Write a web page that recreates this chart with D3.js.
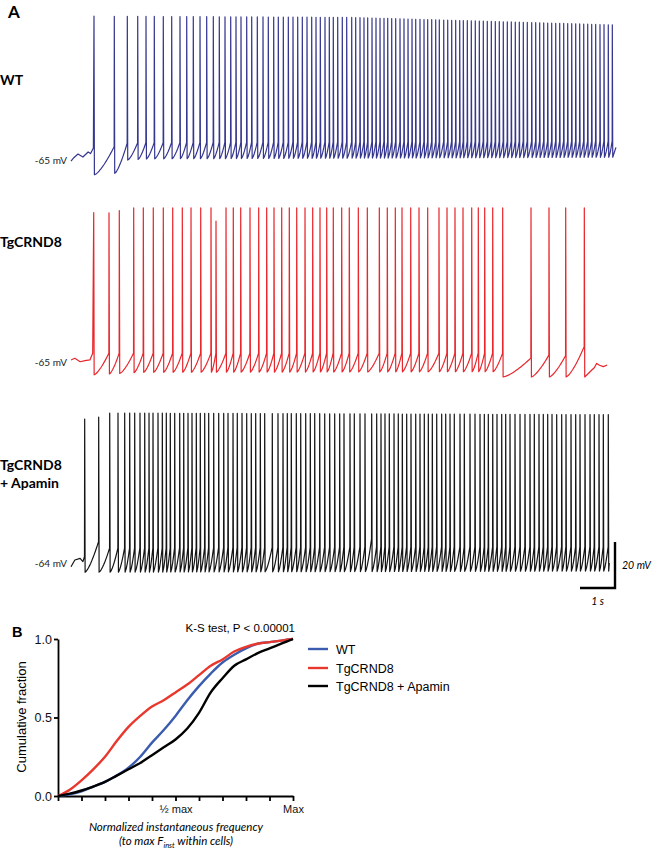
<!DOCTYPE html>
<html><head><meta charset="utf-8">
<script src="https://cdn.jsdelivr.net/npm/d3@7"></script>
<style>body{margin:0;background:#fff}</style>
</head><body><svg id="c" width="656" height="852"></svg>
<script>
// ---------- Panel A data (spike times in s, membrane potential in mV) ----------
const wtSpikeTimes = [0.657,1.237,1.609,1.906,2.143,2.380,2.637,2.877,3.114,3.306,3.494,3.686,3.877,4.066,4.237,4.400,4.563,4.714,4.857,5.020,5.163,5.323,5.486,5.637,5.791,5.923,6.066,6.209,6.343,6.477,6.609,6.743,6.877,7.000,7.123,7.257,7.380,7.494,7.620,7.751,7.877,8.020,8.134,8.257,8.371,8.477,8.600,8.714,8.829,8.943,9.049,9.163,9.277,9.400,9.514,9.629,9.743,9.849,9.971,10.086,10.191,10.306,10.420,10.523,10.649,10.763,10.877,10.991,11.106,11.209,11.323,11.437,11.551,11.666,11.780,11.894,12.009,12.123,12.237,12.351,12.466,12.580,12.694,12.809,12.923,13.037,13.163,13.277,13.391,13.506,13.620,13.734,13.849,13.963,14.077,14.191,14.306,14.420,14.534,14.649,14.763,14.877,14.991,15.114,15.229,15.351,15.466];
const wtHead = [[0,-65.5],[0.08,-64],[0.2,-62.4],[0.34,-63.7],[0.49,-61.5],[0.56,-62.2],[0.64,-59.8]];
const wtTail = [[15.57,-59.5]];
const wtPeak = [[0,-2.4],[8,-3],[15.6,-6.3]];
const wtTrough = [[0.6,-71.5],[1.24,-70.8],[1.61,-65],[2.2,-64.5],[15.6,-63.8]];
const wtThreshold = [[1.237,-59.2],[1.61,-57.7],[2.14,-57.5],[15.6,-56.8]];
const wtPeakOverrides = [];

const tgSpikeTimes = [0.649,1.086,1.380,1.791,2.066,2.351,2.637,2.906,3.180,3.429,3.706,4.000,4.143,4.429,4.637,4.849,5.114,5.363,5.591,5.800,6.020,6.237,6.449,6.686,6.906,7.114,7.306,7.494,7.734,7.951,8.209,8.466,8.809,9.037,9.266,9.457,9.706,9.943,10.191,10.514,10.743,10.971,11.200,11.449,11.637,11.820,12.049,12.334,13.143,13.657,14.134,14.666];
const tgHead = [[0,-64.1],[0.11,-63.4],[0.26,-64.9],[0.4,-64.4],[0.54,-64.1],[0.62,-61.2]];
const tgTail = [[14.88,-68.5],[14.95,-67.5],[15.02,-65.6],[15.1,-66.4],[15.21,-67],[15.32,-66.3]];
const tgPeak = [[0,0.2],[1.1,-0.2],[1.7,2],[15.3,2]];
const tgTrough = [[0.6,-70.6],[2,-69.5],[12.2,-69.2],[12.33,-71.5],[15.3,-71.5]];
const tgThreshold = [[0.6,-61.2],[12.4,-61.2],[13.14,-63.3],[13.66,-62],[14.13,-62.3],[14.67,-58.3]];
const tgPeakOverrides = [[4.143,-3.7]];

const apSpikeTimes = [0.391,0.791,1.106,1.343,1.534,1.677,1.820,1.971,2.106,2.229,2.343,2.486,2.609,2.723,2.837,2.963,3.106,3.220,3.343,3.457,3.580,3.694,3.820,3.934,4.077,4.220,4.363,4.486,4.629,4.751,4.886,5.020,5.151,5.277,5.409,5.534,5.751,5.914,6.057,6.180,6.294,6.437,6.563,6.706,6.837,6.963,7.106,7.249,7.391,7.534,7.677,7.800,7.971,8.094,8.257,8.400,8.591,8.734,8.857,8.971,9.094,9.229,9.351,9.466,9.591,9.714,9.849,9.971,10.094,10.209,10.323,10.449,10.591,10.706,10.829,10.951,11.114,11.237,11.400,11.543,11.686,11.809,11.923,12.049,12.171,12.306,12.420,12.543,12.686,12.829,12.971,13.114,13.237,13.371,13.494,13.620,13.743,13.877,14.020,14.143,14.286,14.420,14.543,14.686,14.829,14.951,15.086,15.209,15.351];
const apHead = [[0,-65.6],[0.11,-62.7],[0.26,-62],[0.34,-63.4],[0.385,-61.3]];
const apTail = [[15.38,-64]];
const apPeak = [[0.39,-1.4],[0.8,-0.5],[1.1,1.2],[15.4,0.5]];
const apTrough = [[0.39,-68],[15.4,-67.5]];
const apThreshold = [[0.79,-54.7],[1.1,-57.6],[8.45,-57],[8.59,-53.5],[8.73,-57],[15.4,-57]];
const apPeakOverrides = [];

const traceNames = ["WT", "TgCRND8", "TgCRND8 + Apamin"];
const restLabels = ["-65 mV", "-65 mV", "-64 mV"];
const restValues = [-65, -65, -64];

// ---------- Panel B data ----------
const cdfX  = [0,0.05,0.1,0.15,0.2,0.25,0.3,0.35,0.4,0.45,0.5,0.55,0.6,0.65,0.7,0.75,0.8,0.85,0.9,0.95,1];
const cdfWT = [0,0.01,0.03,0.06,0.09,0.13,0.18,0.25,0.34,0.42,0.51,0.61,0.70,0.78,0.85,0.90,0.94,0.97,0.98,0.99,1];
const cdfTg = [0,0.04,0.10,0.17,0.25,0.35,0.44,0.51,0.57,0.61,0.66,0.71,0.77,0.83,0.87,0.92,0.95,0.97,0.98,0.99,1];
const cdfAp = [0,0.015,0.035,0.06,0.09,0.13,0.17,0.21,0.26,0.31,0.36,0.43,0.53,0.66,0.75,0.83,0.87,0.91,0.94,0.97,1];
const yTickValues = [0, 0.5, 1.0];
const xTickValues = [0,0.1,0.2,0.3,0.4,0.5,0.6,0.7,0.8,0.9,1.0];
const xTickLabels = [[0.5, "½ max"], [1.0, "Max"]];
const legendNames = ["WT", "TgCRND8", "TgCRND8 + Apamin"];

// ---------- drawing ----------
const svg = d3.select("#c");
const tScale = d3.scaleLinear().domain([0, 1]).range([71, 106]); // 1 s
const colorsA = ["#35368f", "#e8262b", "#141414"];
const baseY = [160, 362, 563];

function interp(env, t) {
  if (t <= env[0][0]) return env[0][1];
  for (let i = 1; i < env.length; i++) {
    if (t <= env[i][0]) {
      const a = env[i-1], b = env[i];
      return a[1] + (b[1] - a[1]) * (t - a[0]) / (b[0] - a[0]);
    }
  }
  return env[env.length-1][1];
}

function buildTrace(spikes, head, tail, peakEnv, troughEnv, thEnv, overrides) {
  const pts = head.map(d => d.slice());
  let prev = null;
  spikes.forEach((ts, i) => {
    if (prev) {
      const th = interp(thEnv, ts);
      const t0 = prev[0], v0 = prev[1], t1 = ts - 0.004;
      const n = Math.max(2, Math.ceil((t1 - t0) * 35 / 1.2));
      for (let k = 1; k <= n; k++) {
        const f = k / n;
        pts.push([t0 + (t1 - t0) * f, v0 + (th - v0) * Math.pow(f, 1.4)]);
      }
    }
    let pk = interp(peakEnv, ts);
    overrides.forEach(o => { if (Math.abs(o[0] - ts) < 1e-6) pk = o[1]; });
    pts.push([ts, pk]);
    const tr = [ts + 0.012, interp(troughEnv, ts)];
    pts.push(tr);
    prev = tr;
  });
  tail.forEach(d => pts.push(d.slice()));
  return pts;
}

const traces = [
  buildTrace(wtSpikeTimes, wtHead, wtTail, wtPeak, wtTrough, wtThreshold, wtPeakOverrides),
  buildTrace(tgSpikeTimes, tgHead, tgTail, tgPeak, tgTrough, tgThreshold, tgPeakOverrides),
  buildTrace(apSpikeTimes, apHead, apTail, apPeak, apTrough, apThreshold, apPeakOverrides)
];

const vScales = restValues.map((v, i) => d3.scaleLinear().domain([v, v + 20]).range([baseY[i], baseY[i] - 46]));

traces.forEach((pts, i) => {
  const line = d3.line().x(d => tScale(d[0])).y(d => vScales[i](d[1]));
  svg.append("path").attr("d", line(pts)).attr("fill", "none")
    .attr("stroke", colorsA[i]).attr("stroke-width", 1.2)
    .attr("stroke-linejoin", "round");
  svg.append("text").attr("x", 67).attr("y", baseY[i] + 4)
    .attr("text-anchor", "end").attr("font-family", "Lato, sans-serif")
    .attr("font-size", 10).attr("fill", "#222").text(restLabels[i]);
});

const labelFont = "Lato, sans-serif";
svg.append("text").attr("x", 8).attr("y", 18).attr("font-family", labelFont)
  .attr("font-weight", "bold").attr("font-size", 17).text("A");
svg.append("text").attr("x", 0).attr("y", 85).attr("font-family", labelFont)
  .attr("font-weight", "bold").attr("font-size", 14).text(traceNames[0]);
svg.append("text").attr("x", 0).attr("y", 247).attr("font-family", labelFont)
  .attr("font-weight", "bold").attr("font-size", 14).text(traceNames[1]);
const apName = traceNames[2].split(" + ");
svg.append("text").attr("x", 0).attr("y", 470).attr("font-family", labelFont)
  .attr("font-weight", "bold").attr("font-size", 14).text(apName[0]);
svg.append("text").attr("x", 0).attr("y", 488).attr("font-family", labelFont)
  .attr("font-weight", "bold").attr("font-size", 14).text("+ " + apName[1]);

// scale bar (1 s, 20 mV)
const sbT1 = 15.543, sbV0 = -74.9;
const sbx0 = tScale(sbT1 - 1), sbx1 = tScale(sbT1);
const sby0 = vScales[2](sbV0), sby1 = vScales[2](sbV0 + 20);
svg.append("path").attr("d", `M${sbx0},${sby0}H${sbx1}V${sby1}`)
  .attr("fill", "none").attr("stroke", "#000").attr("stroke-width", 2.4);
svg.append("text").attr("x", 622).attr("y", 569).attr("font-family", labelFont)
  .attr("font-style", "italic").attr("font-size", 10.5).text("20 mV");
svg.append("text").attr("x", (sbx0 + sbx1) / 2).attr("y", 605).attr("text-anchor", "middle")
  .attr("font-family", labelFont).attr("font-style", "italic").attr("font-size", 10.5).text("1 s");

// ---------- Panel B ----------
const fB = "'Liberation Sans', Arial, sans-serif";
const x = d3.scaleLinear().domain([0, 1]).range([58, 293]);
const y = d3.scaleLinear().domain([0, 1]).range([796, 639]);

svg.append("text").attr("x", 12).attr("y", 637).attr("font-family", fB)
  .attr("font-weight", "bold").attr("font-size", 14.5).text("B");

const yAxis = svg.append("g").attr("transform", "translate(58,0)")
  .call(d3.axisLeft(y).tickValues(yTickValues).tickFormat(d3.format(".1f")).tickSize(4).tickSizeOuter(0).tickPadding(2));
const xAxis = svg.append("g").attr("transform", "translate(0,796)")
  .call(d3.axisBottom(x).tickValues(xTickValues)
    .tickFormat(d => { const m = xTickLabels.find(l => Math.abs(l[0] - d) < 1e-9); return m ? m[1] : ""; })
    .tickSize(5).tickSizeOuter(0).tickPadding(4));
[yAxis, xAxis].forEach(g => {
  g.selectAll("path,line").attr("stroke", "#000").attr("stroke-width", 1.8);
  g.selectAll("text").attr("font-family", fB).attr("fill", "#111");
});
yAxis.selectAll("text").attr("font-size", 12.5);
xAxis.selectAll("text").attr("font-size", 11);

const series = [[cdfWT, "#3b5cae"], [cdfTg, "#e8382d"], [cdfAp, "#000"]];
series.forEach(([vals, col]) => {
  const ln = d3.line().x((d, i) => x(cdfX[i])).y(d => y(d)).curve(d3.curveMonotoneX);
  svg.append("path").attr("d", ln(vals)).attr("fill", "none")
    .attr("stroke", col).attr("stroke-width", 2.4);
});

svg.append("text").attr("transform", "translate(26,717) rotate(-90)")
  .attr("text-anchor", "middle").attr("font-family", fB).attr("font-size", 13).text("Cumulative fraction");
svg.append("text").attr("x", 295).attr("y", 632).attr("text-anchor", "end")
  .attr("font-family", fB).attr("font-size", 11.5).text("K-S test, P < 0.00001");

const legY = [649, 668, 686];
legendNames.forEach((n, i) => {
  svg.append("line").attr("x1", 308).attr("x2", 328).attr("y1", legY[i]).attr("y2", legY[i])
    .attr("stroke", series[i][1]).attr("stroke-width", 2.4);
  svg.append("text").attr("x", 336).attr("y", legY[i] + 4.5).attr("font-family", fB)
    .attr("font-size", 12.5).text(n);
});

svg.append("text").attr("x", 176).attr("y", 831).attr("text-anchor", "middle")
  .attr("font-family", labelFont).attr("font-style", "italic").attr("font-size", 11.5)
  .text("Normalized instantaneous frequency");
const t2 = svg.append("text").attr("x", 176).attr("y", 845).attr("text-anchor", "middle")
  .attr("font-family", labelFont).attr("font-style", "italic").attr("font-size", 11.5);
t2.append("tspan").text("(to max F");
t2.append("tspan").attr("font-size", 7.5).attr("dy", 2.5).text("inst");
t2.append("tspan").attr("dy", -2.5).text(" within cells)");
</script></body></html>
